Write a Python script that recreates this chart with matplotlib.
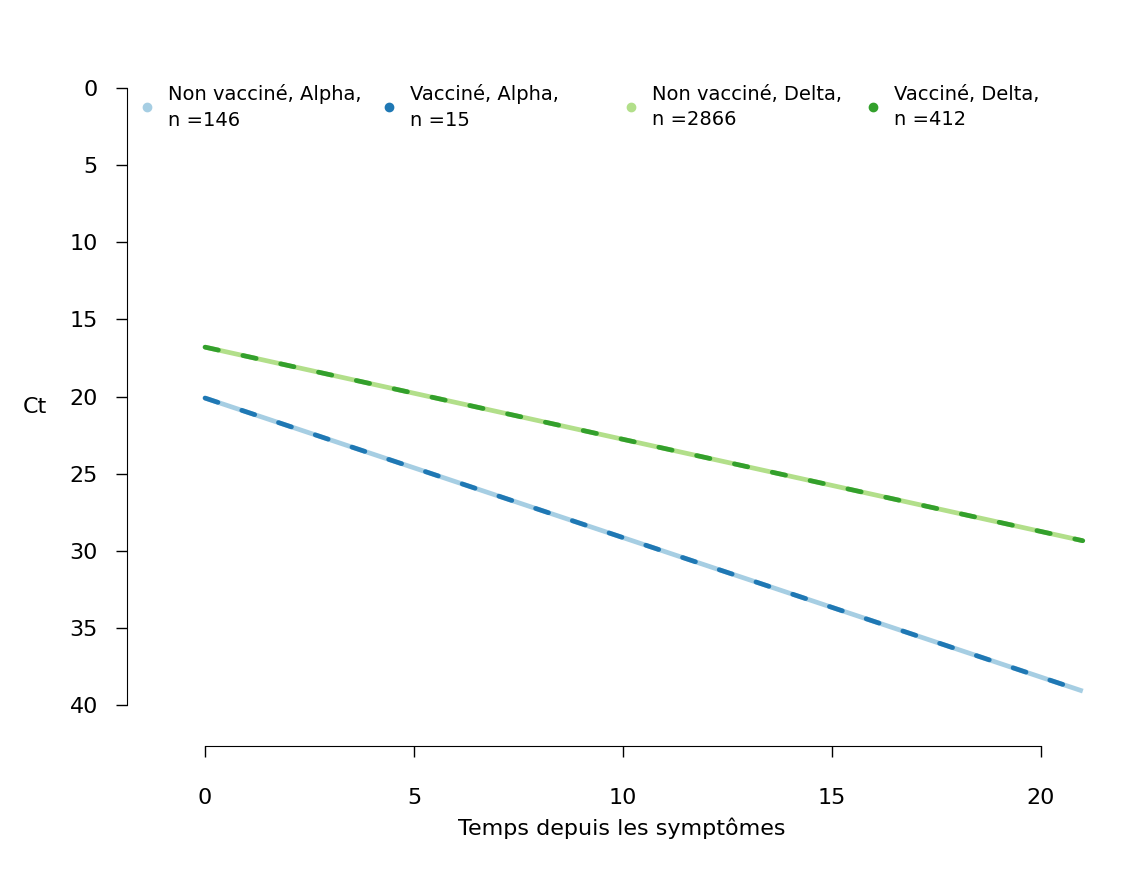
import matplotlib
matplotlib.use("Agg")
import matplotlib.pyplot as plt

# fitted Ct vs days since symptoms (start and end of each line)
days = [0, 21]
ct_nonvax_alpha = [20.1, 39.1]
ct_vax_alpha = [20.1, 39.1]
ct_nonvax_delta = [16.8, 29.35]
ct_vax_delta = [16.8, 29.35]

labels = ["Non vacciné, Alpha,\nn =146", "Vacciné, Alpha,\nn =15",
          "Non vacciné, Delta,\nn =2866", "Vacciné, Delta,\nn =412"]
colors = ["#A6CEE3", "#1F78B4", "#B2DF8A", "#33A02C"]

xticks = [0, 5, 10, 15, 20]
yticks = [0, 5, 10, 15, 20, 25, 30, 35, 40]

W, H = 1148, 871
fig = plt.figure(figsize=(W / 100, H / 100), dpi=100)

# axes box in pixels: left spine at 127, bottom spine at 746
left_px, right_px, top_px, bot_px = 127, 1100, 60, 746
ax = fig.add_axes([left_px / W, 1 - bot_px / H,
                   (right_px - left_px) / W, (bot_px - top_px) / H])

# x: 0 -> 205px, 20 -> 1041px ; y: 0 -> 88px, 40 -> 705px
xs = (1041 - 205) / 20
ys = (705 - 88) / 40
ax.set_xlim((left_px - 205) / xs, (right_px - 205) / xs)
ax.set_ylim((bot_px - 88) / ys, (top_px - 88) / ys)

# light solid lines, then dark dashed on top
ax.plot(days, ct_nonvax_alpha, color=colors[0], lw=3.4, solid_capstyle="butt")
ax.plot(days, ct_nonvax_delta, color=colors[2], lw=3.4, solid_capstyle="butt")
ax.plot(days, ct_vax_alpha, color=colors[1], lw=3.4, dashes=(2.9, 5.3),
        dash_capstyle="round")
ax.plot(days, ct_vax_delta, color=colors[3], lw=3.4, dashes=(2.9, 5.3),
        dash_capstyle="round")

for s in ["top", "right"]:
    ax.spines[s].set_visible(False)
ax.spines["left"].set_bounds(0, 40)
ax.spines["bottom"].set_bounds(0, 20)
ax.set_xticks(xticks)
ax.set_yticks(yticks)
ax.tick_params(axis="x", direction="out", length=8, width=1, pad=22, labelsize=16)
ax.tick_params(axis="y", direction="out", length=8, width=1, pad=13, labelsize=16)

# legend, 4 evenly spaced entries
for i, (lab, c) in enumerate(zip(labels, colors)):
    mx = (147 + i * 242 - left_px) / (right_px - left_px)
    tx = (168 + i * 242 - left_px) / (right_px - left_px)
    yy = (bot_px - 107) / (bot_px - top_px)
    ax.plot([mx], [yy], "o", ms=6, color=c, transform=ax.transAxes, clip_on=False)
    ax.text(tx, yy, lab, transform=ax.transAxes, fontsize=14,
            va="center", ha="left", linespacing=1.45)

fig.text(35 / W, 1 - 407 / H, "Ct", fontsize=16, ha="center", va="center")
fig.text(622 / W, 1 - 828 / H, "Temps depuis les symptômes", fontsize=16,
         ha="center", va="center")

fig.savefig("out.png", dpi=100)
